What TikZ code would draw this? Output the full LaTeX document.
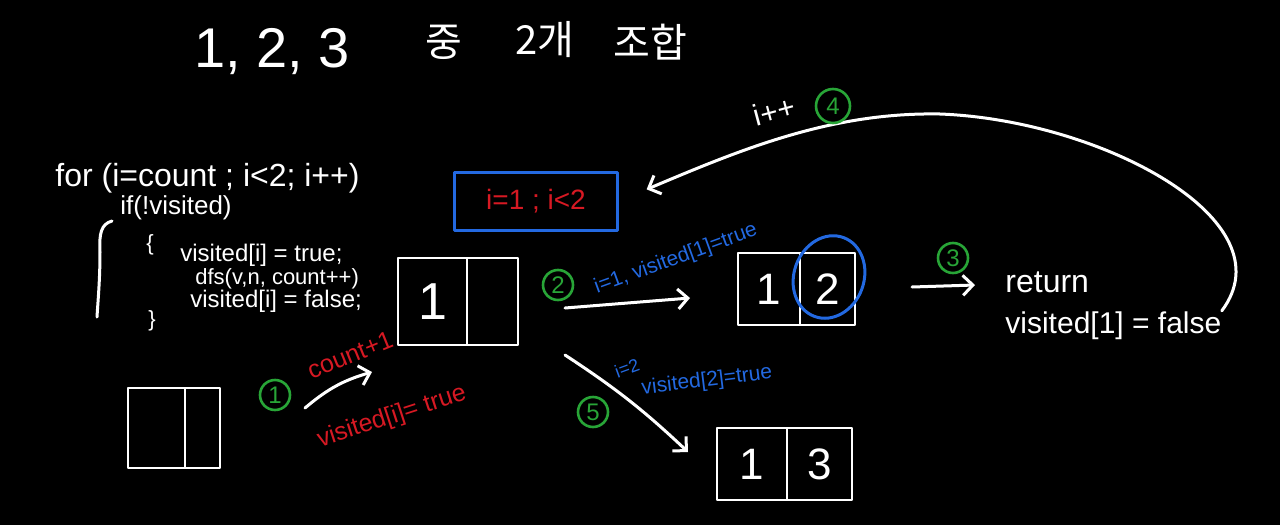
\documentclass[tikz,border=0pt]{standalone}
\usepackage{fontspec}
\setmainfont{Liberation Sans}
\newfontfamily\korfont{Noto Sans CJK KR}
\usepackage{tikz}
\usetikzlibrary{arrows.meta,positioning,shapes.geometric}
\definecolor{chalkgreen}{RGB}{40,165,55}
\definecolor{chalkblue}{RGB}{35,105,225}
\definecolor{chalkred}{RGB}{215,25,35}
\newcommand{\chalkfs}[1]{\fontsize{#1}{#1}\selectfont}

\begin{document}
\begin{tikzpicture}[x=0.5pt,y=-0.5pt,line cap=round,line join=round,
    chalk/.style={white,line width=1.5pt},
    arr/.style={chalk,-{Straight Barb[length=5pt,width=10pt]}},
    cell/.style={draw=white,line width=1.4pt,inner sep=0pt,outer sep=0pt,text=white,font=\chalkfs{22}},
    code/.style={anchor=base west,inner sep=0pt,text=white,font=\chalkfs{12}},
    stepno/.style={circle,draw=chalkgreen,line width=1.3pt,text=chalkgreen,minimum size=15pt,inner sep=0pt,font=\chalkfs{12}},
    bluenote/.style={text=chalkblue,inner sep=0pt,font=\chalkfs{10.5}},
    rednote/.style={text=chalkred,inner sep=0pt,font=\chalkfs{12.5}}]
  \fill[black] (0,0) rectangle (1280,525);
  \useasboundingbox (0,0) rectangle (1280,525);
  % title
  \node[text=white,font=\chalkfs{28}] (nums) at (272,52) {1, 2, 3};
  \node[text=white,font=\korfont\chalkfs{20}] (among) at (444,42) {중};
  \node[text=white,font=\korfont\chalkfs{20}] (two) at (545,40) {2개};
  \node[text=white,font=\korfont\chalkfs{20}] (comb) at (650,42) {조합};
  % code
  \node[code,font=\chalkfs{16}] (forln) at (55,186) {for (i=count ; i<2; i++)};
  \node[code,font=\chalkfs{13}] (ifln) at (120,214) {if(!visited)};
  \node[code,font=\chalkfs{11}] (obr) at (146,250) {\{};
  \node[code] (setln) at (180,261) {visited[i] = true;};
  \node[code,font=\chalkfs{11}] (dfsln) at (195,284) {dfs(v,n, count++)};
  \node[code] (unln) at (190,307) {visited[i] = false;};
  \node[code,font=\chalkfs{11}] (cbr) at (148,326) {\}};
  \draw[chalk] (112,221) .. controls (101,224) and (99,234) .. (100,252)
    .. controls (100,280) and (98,300) .. (97,317);
  % boxes
  \node[cell,minimum width=28.5pt,minimum height=40pt] (e1) at (156.5,428) {};
  \node[cell,minimum width=17.5pt,minimum height=40pt,right=0pt of e1] (e2) {};
  \node[cell,minimum width=34.5pt,minimum height=43.5pt,font=\chalkfs{26}] (one1) at (432.5,301.5) {1};
  \node[cell,minimum width=25.5pt,minimum height=43.5pt,right=0pt of one1] (one2) {};
  \node[cell,minimum width=31pt,minimum height=36pt] (two1) at (769,289) {1};
  \node[cell,minimum width=27.5pt,minimum height=36pt,right=0pt of two1] (two2) {2};
  \node[cell,minimum width=35pt,minimum height=36pt] (thr1) at (752,464) {1};
  \node[cell,minimum width=32.5pt,minimum height=36pt,right=0pt of thr1] (thr2) {3};
  \node[ellipse,draw=chalkblue,line width=1.5pt,minimum width=35pt,minimum height=42pt,rotate=-20] (ring) at (829,277) {};
  % condition
  \node[draw=chalkblue,line width=1.5pt,minimum width=81.5pt,minimum height=29pt,text=chalkred,font=\chalkfs{14}] (cond) at (536,201) {i=1 ; i<2};
  % step 1
  \node[stepno] (s1) at (275,395) {1};
  \coordinate (a1s) at (305,408); \coordinate (a1e) at (372,372);
  \draw[arr] (a1s) to[bend left=12] (a1e);
  \node[rednote,rotate=22] (cnt) at (350,355) {count+1};
  \node[rednote,rotate=18] (vtrue) at (392,417) {visited[i]= true};
  % step 2
  \node[stepno] (s2) at (558,285) {2};
  \node[bluenote,rotate=20] (n2) at (676,259) {i=1, visited[1]=true};
  \coordinate (a2s) at (565,308); \coordinate (a2e) at (690,298);
  \draw[arr] (a2s) -- (a2e);
  % step 3
  \node[stepno] (s3) at (953,258) {3};
  \coordinate (a3s) at (912,287); \coordinate (a3e) at (975,285);
  \draw[arr] (a3s) -- (a3e);
  \node[code,font=\chalkfs{16}] (ret) at (1005,292) {return};
  \node[code,font=\chalkfs{15}] (vis) at (1005,333) {visited[1] = false};
  % step 4
  \draw[arr] (vis.north east) .. controls (1290,220) and (1100,120) .. (940,114)
    .. controls (830,112) and (740,150) .. (cond.east) [shorten >=15pt];
  \node[text=white,font=\chalkfs{15},rotate=15,inner sep=0pt] (inc) at (774,111) {i++};
  \node[stepno,minimum size=17pt] (s4) at (833,106) {4};
  % step 5
  \coordinate (a5s) at (565,355); \coordinate (a5e) at (688,452);
  \draw[arr] (a5s) to[bend left=5] (a5e);
  \node[stepno] (s5) at (593,412) {5};
  \node[bluenote,font=\chalkfs{9},rotate=20] (n5a) at (627,368) {i=2};
  \node[bluenote,rotate=7] (n5b) at (707,381) {visited[2]=true};
\end{tikzpicture}
\end{document}
